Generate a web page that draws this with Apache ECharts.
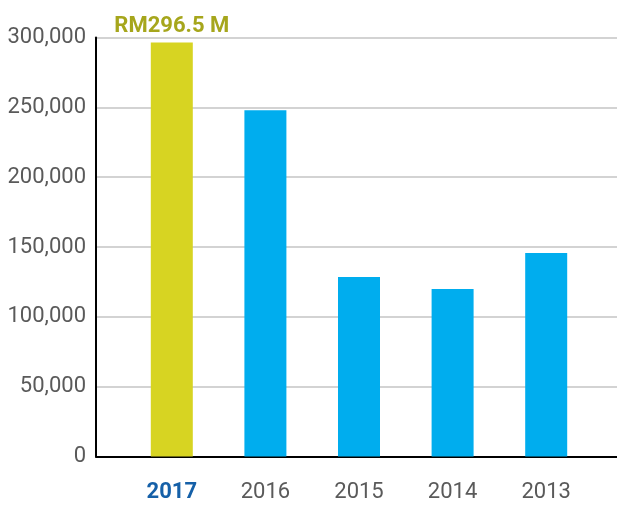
<!DOCTYPE html>
<html>
<head>
<meta charset="utf-8">
<script src="https://cdn.jsdelivr.net/npm/echarts@6/dist/echarts.min.js"></script>
<style>
html,body{margin:0;padding:0;background:#fff;}
#chart{width:617px;height:506px;}
</style>
</head>
<body>
<div id="chart"></div>
<script>
const categories = ['2017', '2016', '2015', '2014', '2013'];
const values = [296500, 248000, 128500, 120000, 145700];
const highlightLabel = 'RM296.5 M';
const yMin = 0, yMax = 300000, yInterval = 50000;

const FONT = 'Roboto, "Liberation Sans", sans-serif';
const chart = echarts.init(document.getElementById('chart'), null, {renderer: 'canvas'});
chart.setOption({
  animation: false,
  backgroundColor: '#ffffff',
  grid: [
    {left: 96, right: 0, top: 37.5, bottom: 49.5},
    {left: 125, right: 24, top: 37.5, bottom: 49.5}
  ],
  xAxis: [
    {
      gridIndex: 0, type: 'category', data: categories,
      axisLine: {show: true, lineStyle: {color: '#000', width: 2}},
      axisTick: {show: false}, axisLabel: {show: false}, splitLine: {show: false}
    },
    {
      gridIndex: 1, type: 'category', data: categories,
      axisLine: {show: false}, axisTick: {show: false},
      axisLabel: {
        interval: 0, margin: 25,
        fontFamily: FONT, fontSize: 22, color: '#5a5a5a',
        formatter: (v, i) => i === 0 ? '{hl|' + v + '}' : v,
        rich: {hl: {fontFamily: FONT, fontSize: 22, fontWeight: 'bold', color: '#1560a8'}}
      }
    }
  ],
  yAxis: [
    {
      gridIndex: 0, type: 'value', min: yMin, max: yMax, interval: yInterval,
      axisLine: {show: true, lineStyle: {color: '#000', width: 2}},
      axisTick: {show: false},
      axisLabel: {
        margin: 10, fontFamily: FONT, fontSize: 22, color: '#5a5a5a',
        formatter: v => v.toLocaleString('en-US')
      },
      splitLine: {show: true, lineStyle: {color: '#c4c4c4', width: 1.5}}
    },
    {
      gridIndex: 1, type: 'value', min: yMin, max: yMax, interval: yInterval,
      show: false, splitLine: {show: false}
    }
  ],
  series: [{
    type: 'bar',
    xAxisIndex: 1, yAxisIndex: 1,
    data: values,
    barWidth: 42,
    itemStyle: {color: p => p.dataIndex === 0 ? '#d7d422' : '#00adee'},
    label: {
      show: true, position: 'top', distance: 5,
      formatter: p => p.dataIndex === 0 ? highlightLabel : '',
      fontFamily: FONT, fontSize: 22, fontWeight: 'bold', color: '#a6a61c'
    }
  }]
});
</script>
</body>
</html>
